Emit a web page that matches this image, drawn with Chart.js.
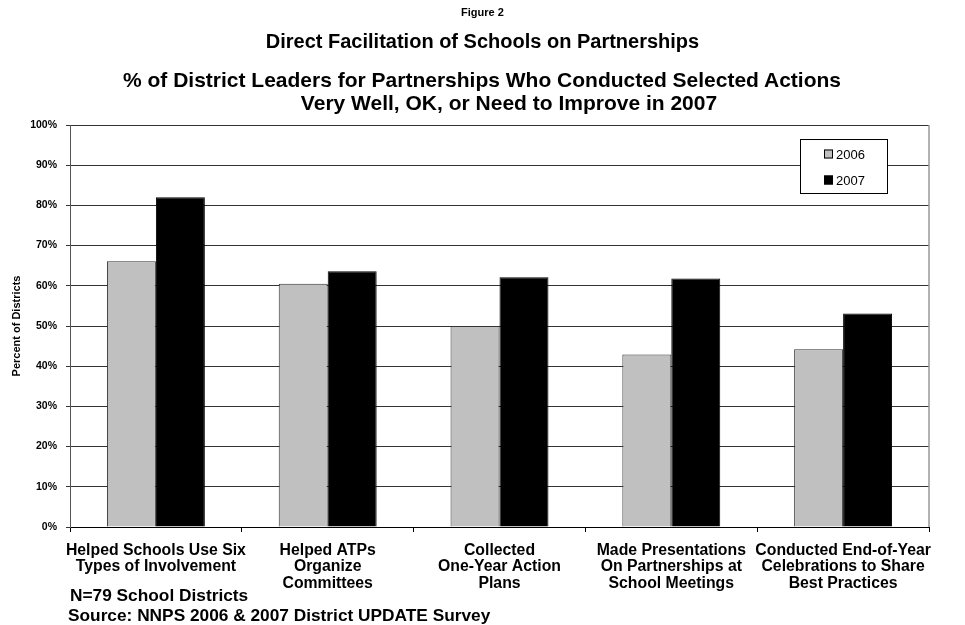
<!DOCTYPE html>
<html>
<head>
<meta charset="utf-8">
<script src="https://cdn.jsdelivr.net/npm/chart.js@4"></script>
<style>
    body { margin: 0; background: #fff; overflow: hidden; }
    #wrap { position: relative; width: 965px; height: 625px; font-family: "Liberation Sans", Arial, sans-serif; color: #000; }
    #plot { position: absolute; left: 0; top: 0; }
    .t { position: absolute; left: 0; text-align: center; font-weight: bold; white-space: nowrap; }
    .note { position: absolute; font-weight: bold; font-size: 17.3px; line-height: 19px; white-space: nowrap; }
</style>
</head>
<body>
<div id="wrap">
    <canvas id="plot" width="965" height="625"></canvas>
    <div class="t" style="top:5px; width:965px; font-size:11px; line-height:14px;">Figure 2</div>
    <div class="t" style="top:29px; width:965px; font-size:20px; line-height:24px;">Direct Facilitation of Schools on Partnerships</div>
    <div class="t" style="top:68px; width:964px; font-size:21px; line-height:23px;">% of District Leaders for Partnerships Who Conducted Selected Actions</div>
    <div class="t" style="top:91px; width:1018px; font-size:21px; line-height:23px;">Very Well, OK, or Need to Improve in 2007</div>
    <div class="note" style="left:70px; top:586px;">N=79 School Districts</div>
    <div class="note" style="left:68px; top:606px;">Source: NNPS 2006 &amp; 2007 District UPDATE Survey</div>
</div>
<script>
"use strict";

// Kategorien (mehrzeilig wie im Original)
const categories = [
    ["Helped Schools Use Six", "Types of Involvement"],
    ["Helped ATPs", "Organize", "Committees"],
    ["Collected", "One-Year Action", "Plans"],
    ["Made Presentations", "On Partnerships at", "School Meetings"],
    ["Conducted End-of-Year", "Celebrations to Share", "Best Practices"]
];
const values2006 = [66.1, 60.5, 50.0, 42.9, 44.2];
const values2007 = [82.0, 63.6, 62.1, 61.8, 53.1];
const seriesNames = ["2006", "2007"];

const FONT = "'Liberation Sans', Arial, sans-serif";

// Legende als Kasten im Diagramm + rechter Rahmen
const boxLegend = {
    id: 'boxLegend',
    afterDraw(chart) {
        const c = chart.ctx;
        const area = chart.chartArea;

        c.save();
        c.strokeStyle = '#999';
        c.lineWidth = 1.5;
        c.beginPath();
        c.moveTo(area.right, area.top);
        c.lineTo(area.right, area.bottom);
        c.stroke();

        const x = 800.5, y = 139.5, w = 87, h = 54;
        c.fillStyle = '#fff';
        c.fillRect(x, y, w, h);
        c.strokeStyle = '#000';
        c.lineWidth = 1;
        c.strokeRect(x, y, w, h);

        c.font = "13px " + FONT;
        c.textBaseline = 'middle';
        chart.data.datasets.forEach((ds, i) => {
            const cy = 154 + i * 26;
            c.fillStyle = ds.backgroundColor;
            c.fillRect(824, cy - 4.5, 9, 9);
            c.strokeStyle = '#000';
            c.strokeRect(824.5, cy - 4, 8, 8);
            c.fillStyle = '#000';
            c.fillText(ds.label, 836, cy + 1);
        });
        c.restore();
    }
};

const ctx = document.getElementById('plot').getContext('2d');
const chart = new Chart(ctx, {
    type: 'bar',
    data: {
        labels: categories,
        datasets: [
            { label: seriesNames[0], data: values2006, backgroundColor: '#c0c0c0', borderColor: '#333', borderWidth: 1 },
            { label: seriesNames[1], data: values2007, backgroundColor: '#000000', borderColor: '#000', borderWidth: 1 }
        ]
    },
    options: {
        responsive: false,
        animation: false,
        categoryPercentage: 0.57,
        barPercentage: 1.0,
        layout: { padding: { top: 125, right: 36, left: 0, bottom: 0 } },
        plugins: {
            legend: { display: false },
            tooltip: { enabled: false }
        },
        scales: {
            x: {
                grid: { drawOnChartArea: false, offset: true, tickLength: 5, color: '#000' },
                border: { color: '#000', width: 1 },
                ticks: {
                    color: '#000',
                    font: { family: FONT, size: 15.8, weight: 'bold', lineHeight: 1.05 },
                    padding: 10,
                    maxRotation: 0,
                    autoSkip: false
                },
                afterFit(scale) { scale.height = 98; }
            },
            y: {
                min: 0,
                max: 100,
                grid: { color: '#333', tickLength: 4 },
                border: { color: '#555', width: 1 },
                ticks: {
                    stepSize: 10,
                    color: '#000',
                    padding: 9,
                    font: { family: FONT, size: 10.5, weight: 'bold' },
                    callback: v => v + '%'
                },
                title: {
                    display: true,
                    text: 'Percent of Districts',
                    color: '#000',
                    font: { family: FONT, size: 11, weight: 'bold' },
                    padding: { top: 10, bottom: 0 }
                },
                afterFit(scale) { scale.width = 70; }
            }
        }
    },
    plugins: [boxLegend]
});
</script>
</body>
</html>
